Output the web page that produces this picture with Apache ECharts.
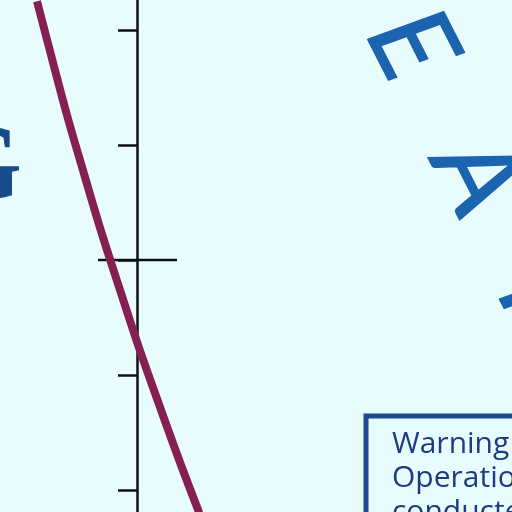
<!DOCTYPE html>
<html>
<head>
<meta charset="utf-8">
<title>curve</title>
<script src="https://cdn.jsdelivr.net/npm/echarts@6/dist/echarts.min.js"></script>
</head>
<body style="margin:0;background:#e9fcfd">
<div id="main" style="width:512px;height:512px"></div>
<script type="text/javascript">
// curve (x: offset from the axis, y: tick units)
var curveX = [-100, -85, -69.7, -53, -35.9, -17.4, 1.5, 21.8, 42.6, 62.3];
var curveY = [4.25, 3.75, 3.25, 2.75, 2.25, 1.75, 1.25, 0.75, 0.25, -0.2];
var tickValues = [0, 1, 2, 3, 4];
var crossX = [-39, 40];
var crossLevel = 2;
var bigLetters = ['E', 'A', 'R'];
var warningLines = ['Warning', 'Operation', 'conducted'];

var curveData = [];
for (var i = 0; i < curveX.length; i++) curveData.push([curveX[i], curveY[i]]);
var crossData = [];
for (var j = 0; j < crossX.length; j++) crossData.push([crossX[j], crossLevel]);

var myChart = echarts.init(document.getElementById('main'));

var rot = -63 * Math.PI / 180;
var letterPos = [[411, 45], [478, 176], [544, 307]];
var graphics = [];
for (var k = 0; k < bigLetters.length; k++) {
    graphics.push({
        type: 'text', x: letterPos[k][0], y: letterPos[k][1], rotation: rot, z: 5,
        style: {
            text: bigLetters[k], fill: '#1a64b0', stroke: '#1a64b0', lineWidth: 1.5,
            font: 'italic 400 112px Lato', align: 'center', verticalAlign: 'middle'
        }
    });
}
graphics.push({
    type: 'text', x: 22, y: 171, z: 5,
    style: {text: 'G', fill: '#174b8c', font: 'bold 110px "Liberation Serif"', align: 'right', verticalAlign: 'middle'}
});
graphics.push({
    type: 'rect', z: 5,
    shape: {x: 366, y: 416, width: 200, height: 150},
    style: {fill: 'none', stroke: '#1b4a8e', lineWidth: 5}
});
for (var m = 0; m < warningLines.length; m++) {
    graphics.push({
        type: 'text', x: 392, y: 444 + m * 34, z: 5,
        style: {text: warningLines[m], fill: '#1b3c82', font: '30px "Open Sans"', align: 'left', verticalAlign: 'middle'}
    });
}

var option = {
    backgroundColor: '#e9fcfd',
    animation: false,
    grid: {left: 0, right: 0, top: 0, bottom: 0},
    xAxis: {type: 'value', min: -137, max: 375, show: false},
    yAxis: {
        type: 'value',
        min: -22 / 115,
        max: 490 / 115,
        axisLine: {show: true, onZero: true, lineStyle: {color: '#111', width: 2.5}},
        axisTick: {show: true, customValues: tickValues, length: 19, lineStyle: {color: '#111', width: 2.5}},
        axisLabel: {show: false},
        splitLine: {show: false}
    },
    graphic: graphics,
    series: [
        {
            name: 'curve', type: 'line', data: curveData, smooth: 0.4, showSymbol: false,
            lineStyle: {color: '#861f52', width: 8}, z: 3
        },
        {
            name: 'cross', type: 'line', data: crossData, showSymbol: false,
            lineStyle: {color: '#111', width: 2.5}, z: 2
        }
    ]
};
myChart.setOption(option);
</script>
</body>
</html>
